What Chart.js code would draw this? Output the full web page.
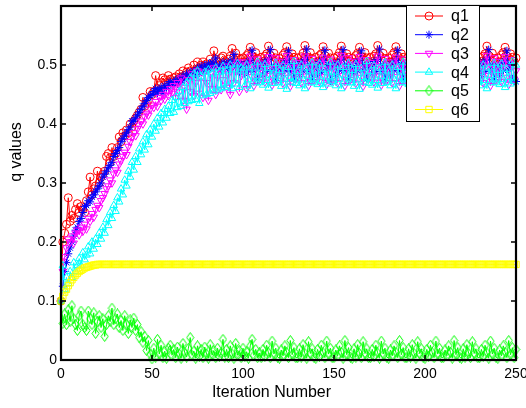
<!DOCTYPE html>
<html><head><meta charset="utf-8">
<script src="https://cdn.jsdelivr.net/npm/chart.js@4.4.1/dist/chart.umd.min.js"></script>
<style>html,body{margin:0;padding:0;background:#fff;}canvas{display:block;}</style>
</head><body>
<canvas id="c" width="526" height="408"></canvas>
<script>
const seriesNames = ["q1","q2","q3","q4","q5","q6"];
const xTickValues = [0,50,100,150,200,250];
const yTickValues = [0,0.1,0.2,0.3,0.4,0.5];
const xTitle = "Iteration Number";
const yTitle = "q values";

const q1 = [
0.100,0.200,0.215,0.230,0.275,0.235,0.245,0.240,0.255,0.265,
0.250,0.260,0.255,0.250,0.270,0.285,0.310,0.280,0.290,0.295,
0.320,0.300,0.310,0.315,0.320,0.345,0.350,0.335,0.360,0.345,
0.350,0.360,0.378,0.370,0.385,0.380,0.390,0.385,0.400,0.395,
0.405,0.410,0.415,0.420,0.425,0.445,0.430,0.435,0.440,0.455,
0.450,0.455,0.482,0.460,0.465,0.470,0.478,0.475,0.470,0.482,
0.476,0.470,0.478,0.480,0.475,0.485,0.480,0.490,0.482,0.488,
0.495,0.490,0.485,0.500,0.490,0.505,0.495,0.500,0.505,0.498,
0.502,0.495,0.510,0.500,0.524,0.510,0.505,0.500,0.512,0.515,
0.505,0.500,0.510,0.515,0.528,0.505,0.520,0.512,0.505,0.510,
0.512,0.505,0.516,0.520,0.530,0.514,0.508,0.521,0.511,0.504,
0.513,0.506,0.515,0.519,0.532,0.516,0.507,0.520,0.512,0.505,
0.511,0.504,0.517,0.521,0.531,0.515,0.509,0.519,0.513,0.506,
0.512,0.505,0.514,0.520,0.533,0.514,0.508,0.521,0.511,0.504,
0.513,0.506,0.516,0.519,0.531,0.516,0.507,0.520,0.512,0.505,
0.512,0.505,0.515,0.521,0.532,0.515,0.508,0.519,0.513,0.506,
0.511,0.504,0.516,0.520,0.530,0.514,0.509,0.521,0.512,0.505,
0.513,0.506,0.515,0.519,0.533,0.516,0.507,0.520,0.511,0.504,
0.512,0.505,0.517,0.521,0.531,0.515,0.508,0.519,0.513,0.506,
0.511,0.504,0.514,0.520,0.532,0.514,0.509,0.521,0.512,0.505,
0.513,0.506,0.516,0.519,0.530,0.516,0.507,0.520,0.511,0.504,
0.512,0.505,0.515,0.521,0.533,0.515,0.508,0.519,0.513,0.506,
0.511,0.504,0.516,0.520,0.531,0.514,0.509,0.521,0.512,0.505,
0.513,0.506,0.515,0.519,0.532,0.516,0.507,0.520,0.511,0.504,
0.512,0.505,0.517,0.521,0.530,0.515,0.508,0.519,0.513,0.506,
0.512];

const q2 = [
0.100,0.125,0.150,0.165,0.180,0.190,0.200,0.210,0.220,0.225,
0.235,0.240,0.250,0.260,0.262,0.270,0.268,0.276,0.280,0.285,
0.290,0.295,0.300,0.310,0.315,0.320,0.326,0.330,0.335,0.345,
0.350,0.355,0.360,0.370,0.375,0.380,0.385,0.390,0.395,0.405,
0.405,0.410,0.415,0.420,0.425,0.430,0.435,0.440,0.445,0.448,
0.450,0.455,0.460,0.452,0.458,0.462,0.452,0.465,0.460,0.468,
0.472,0.465,0.470,0.475,0.468,0.478,0.470,0.482,0.475,0.485,
0.478,0.488,0.480,0.490,0.484,0.495,0.486,0.498,0.490,0.500,
0.492,0.502,0.495,0.505,0.498,0.512,0.494,0.500,0.490,0.505,
0.497,0.503,0.492,0.508,0.500,0.518,0.496,0.505,0.488,0.502,
0.500,0.485,0.505,0.490,0.508,0.525,0.490,0.500,0.475,0.495,
0.502,0.483,0.506,0.489,0.510,0.526,0.491,0.498,0.474,0.496,
0.499,0.486,0.504,0.491,0.507,0.524,0.489,0.501,0.476,0.494,
0.501,0.484,0.505,0.490,0.509,0.527,0.490,0.499,0.475,0.495,
0.500,0.485,0.506,0.488,0.508,0.525,0.492,0.500,0.473,0.497,
0.502,0.484,0.504,0.491,0.510,0.526,0.490,0.501,0.475,0.494,
0.499,0.486,0.505,0.490,0.507,0.524,0.491,0.499,0.476,0.496,
0.501,0.485,0.506,0.489,0.509,0.527,0.489,0.500,0.474,0.495,
0.500,0.483,0.504,0.491,0.508,0.525,0.490,0.501,0.475,0.497,
0.502,0.486,0.505,0.490,0.510,0.526,0.492,0.499,0.473,0.494,
0.499,0.484,0.506,0.488,0.507,0.524,0.490,0.500,0.476,0.496,
0.501,0.485,0.504,0.491,0.509,0.527,0.491,0.501,0.475,0.495,
0.500,0.486,0.505,0.490,0.508,0.525,0.489,0.499,0.474,0.497,
0.502,0.484,0.506,0.489,0.510,0.526,0.490,0.500,0.475,0.494,
0.499,0.485,0.504,0.491,0.507,0.524,0.492,0.501,0.476,0.473,
0.472];

const q3 = [
0.100,0.150,0.175,0.190,0.205,0.200,0.210,0.198,0.215,0.220,
0.212,0.225,0.218,0.230,0.222,0.240,0.235,0.248,0.242,0.255,
0.262,0.258,0.270,0.275,0.282,0.290,0.295,0.305,0.300,0.315,
0.322,0.318,0.332,0.338,0.345,0.352,0.348,0.362,0.370,0.378,
0.385,0.380,0.392,0.398,0.405,0.400,0.412,0.418,0.415,0.425,
0.432,0.428,0.438,0.430,0.445,0.440,0.450,0.442,0.455,0.448,
0.460,0.452,0.465,0.445,0.470,0.455,0.478,0.440,0.462,0.425,
0.475,0.455,0.485,0.448,0.470,0.490,0.452,0.478,0.445,0.488,
0.470,0.440,0.485,0.460,0.495,0.450,0.480,0.492,0.458,0.475,
0.498,0.462,0.485,0.450,0.500,0.470,0.490,0.505,0.455,0.482,
0.505,0.490,0.460,0.500,0.515,0.480,0.465,0.495,0.510,0.475,
0.503,0.488,0.471,0.501,0.514,0.482,0.466,0.494,0.512,0.474,
0.506,0.491,0.469,0.499,0.516,0.479,0.464,0.496,0.509,0.476,
0.504,0.489,0.470,0.500,0.515,0.481,0.465,0.495,0.511,0.475,
0.505,0.490,0.472,0.502,0.513,0.480,0.467,0.493,0.510,0.473,
0.503,0.491,0.470,0.500,0.516,0.482,0.465,0.496,0.512,0.475,
0.506,0.488,0.469,0.501,0.514,0.479,0.464,0.495,0.509,0.476,
0.504,0.490,0.471,0.499,0.515,0.481,0.466,0.494,0.511,0.474,
0.505,0.489,0.470,0.500,0.513,0.480,0.465,0.496,0.510,0.475,
0.503,0.491,0.472,0.502,0.516,0.482,0.467,0.495,0.512,0.473,
0.506,0.490,0.469,0.500,0.514,0.479,0.464,0.493,0.509,0.476,
0.504,0.488,0.470,0.501,0.515,0.481,0.465,0.496,0.511,0.475,
0.505,0.491,0.471,0.499,0.513,0.480,0.466,0.495,0.510,0.474,
0.503,0.489,0.470,0.500,0.516,0.482,0.465,0.494,0.512,0.475,
0.506,0.490,0.472,0.502,0.514,0.479,0.467,0.496,0.509,0.476,
0.490];

const q4 = [
0.100,0.160,0.120,0.140,0.130,0.150,0.140,0.165,0.150,0.160,
0.172,0.160,0.182,0.170,0.178,0.192,0.180,0.200,0.188,0.205,
0.196,0.215,0.205,0.225,0.215,0.238,0.228,0.250,0.240,0.262,
0.252,0.275,0.268,0.290,0.280,0.305,0.295,0.320,0.310,0.335,
0.322,0.345,0.335,0.358,0.348,0.370,0.356,0.382,0.365,0.390,
0.378,0.400,0.388,0.410,0.395,0.418,0.402,0.425,0.410,0.430,
0.418,0.440,0.420,0.445,0.428,0.455,0.430,0.462,0.435,0.470,
0.438,0.478,0.440,0.485,0.442,0.490,0.435,0.480,0.448,0.488,
0.450,0.492,0.452,0.485,0.455,0.495,0.458,0.488,0.460,0.498,
0.462,0.490,0.465,0.500,0.460,0.492,0.468,0.502,0.462,0.495,
0.490,0.465,0.500,0.475,0.460,0.495,0.480,0.470,0.505,0.470,
0.488,0.466,0.501,0.474,0.461,0.494,0.482,0.469,0.503,0.471,
0.491,0.464,0.499,0.476,0.459,0.496,0.479,0.471,0.506,0.469,
0.489,0.465,0.500,0.475,0.460,0.495,0.481,0.470,0.504,0.470,
0.490,0.467,0.502,0.473,0.462,0.493,0.480,0.468,0.505,0.472,
0.488,0.465,0.500,0.476,0.460,0.496,0.482,0.470,0.503,0.470,
0.491,0.464,0.501,0.475,0.459,0.494,0.479,0.471,0.506,0.469,
0.489,0.466,0.499,0.474,0.461,0.495,0.481,0.469,0.504,0.471,
0.490,0.465,0.500,0.476,0.460,0.496,0.480,0.470,0.505,0.470,
0.488,0.467,0.502,0.475,0.462,0.493,0.482,0.468,0.503,0.472,
0.491,0.465,0.500,0.473,0.460,0.495,0.479,0.471,0.506,0.469,
0.489,0.464,0.501,0.476,0.459,0.494,0.481,0.470,0.504,0.470,
0.490,0.466,0.499,0.475,0.461,0.496,0.480,0.469,0.505,0.471,
0.488,0.465,0.500,0.474,0.460,0.495,0.482,0.470,0.503,0.470,
0.491,0.467,0.502,0.476,0.462,0.493,0.479,0.468,0.506,0.472,
0.500];

const q5 = [
0.100,0.062,0.078,0.060,0.085,0.065,0.092,0.070,0.060,0.050,
0.075,0.083,0.060,0.055,0.050,0.083,0.070,0.060,0.080,0.045,
0.065,0.075,0.055,0.070,0.040,0.060,0.075,0.065,0.088,0.060,
0.070,0.078,0.055,0.067,0.050,0.075,0.061,0.045,0.068,0.055,
0.071,0.050,0.060,0.038,0.048,0.030,0.040,0.016,0.033,0.010,
0.002,0.020,0.005,0.035,0.010,0.025,0.004,0.015,0.003,0.020,
0.025,0.008,0.018,0.004,0.022,0.010,0.003,0.028,0.012,0.005,
0.020,0.038,0.008,0.015,0.003,0.024,0.006,0.018,0.004,0.022,
0.010,0.003,0.026,0.008,0.016,0.004,0.020,0.006,0.012,0.035,
0.005,0.018,0.004,0.024,0.010,0.003,0.028,0.008,0.016,0.004,
0.020,0.006,0.014,0.003,0.024,0.035,0.008,0.018,0.004,0.012,
0.004,0.018,0.006,0.025,0.012,0.004,0.032,0.010,0.020,0.005,
0.003,0.017,0.007,0.024,0.013,0.004,0.033,0.009,0.021,0.004,
0.004,0.019,0.005,0.026,0.011,0.003,0.031,0.011,0.019,0.005,
0.003,0.018,0.006,0.025,0.012,0.004,0.032,0.010,0.020,0.004,
0.004,0.017,0.007,0.024,0.013,0.003,0.033,0.009,0.021,0.005,
0.003,0.019,0.005,0.026,0.011,0.004,0.031,0.011,0.019,0.004,
0.004,0.018,0.006,0.025,0.012,0.003,0.032,0.010,0.020,0.005,
0.003,0.017,0.007,0.024,0.013,0.004,0.033,0.009,0.021,0.004,
0.004,0.019,0.005,0.026,0.011,0.003,0.031,0.011,0.019,0.005,
0.003,0.018,0.006,0.025,0.012,0.004,0.032,0.010,0.020,0.004,
0.004,0.017,0.007,0.024,0.013,0.003,0.033,0.009,0.021,0.005,
0.003,0.019,0.005,0.026,0.011,0.004,0.031,0.011,0.019,0.004,
0.004,0.018,0.006,0.025,0.012,0.003,0.032,0.010,0.020,0.005,
0.003,0.017,0.007,0.024,0.013,0.004,0.033,0.009,0.021,0.004,
0.018];

const q6 = [
0.100,0.108,0.115,0.120,0.126,0.131,0.136,0.140,0.144,0.147,
0.150,0.152,0.154,0.156,0.157,0.158,0.159,0.160,0.161,0.161,
0.162,0.162,0.162,0.162,0.162,0.162,0.162,0.162,0.162,0.162,
0.162,0.162,0.162,0.162,0.162,0.162,0.162,0.162,0.162,0.162,
0.162,0.162,0.162,0.162,0.162,0.162,0.162,0.162,0.162,0.162,
0.162,0.162,0.162,0.162,0.162,0.162,0.162,0.162,0.162,0.162,
0.162,0.162,0.162,0.162,0.162,0.162,0.162,0.162,0.162,0.162,
0.162,0.162,0.162,0.162,0.162,0.162,0.162,0.162,0.162,0.162,
0.162,0.162,0.162,0.162,0.162,0.162,0.162,0.162,0.162,0.162,
0.162,0.162,0.162,0.162,0.162,0.162,0.162,0.162,0.162,0.162,
0.162,0.162,0.162,0.162,0.162,0.162,0.162,0.162,0.162,0.162,
0.162,0.162,0.162,0.162,0.162,0.162,0.162,0.162,0.162,0.162,
0.162,0.162,0.162,0.162,0.162,0.162,0.162,0.162,0.162,0.162,
0.162,0.162,0.162,0.162,0.162,0.162,0.162,0.162,0.162,0.162,
0.162,0.162,0.162,0.162,0.162,0.162,0.162,0.162,0.162,0.162,
0.162,0.162,0.162,0.162,0.162,0.162,0.162,0.162,0.162,0.162,
0.162,0.162,0.162,0.162,0.162,0.162,0.162,0.162,0.162,0.162,
0.162,0.162,0.162,0.162,0.162,0.162,0.162,0.162,0.162,0.162,
0.162,0.162,0.162,0.162,0.162,0.162,0.162,0.162,0.162,0.162,
0.162,0.162,0.162,0.162,0.162,0.162,0.162,0.162,0.162,0.162,
0.162,0.162,0.162,0.162,0.162,0.162,0.162,0.162,0.162,0.162,
0.162,0.162,0.162,0.162,0.162,0.162,0.162,0.162,0.162,0.162,
0.162,0.162,0.162,0.162,0.162,0.162,0.162,0.162,0.162,0.162,
0.162,0.162,0.162,0.162,0.162,0.162,0.162,0.162,0.162,0.162,
0.162,0.162,0.162,0.162,0.162,0.162,0.162,0.162,0.162,0.162,
0.162];

const seriesValues = [q1,q2,q3,q4,q5,q6];
const seriesColors = ["#ff0000","#0000ff","#ff00ff","#00ffff","#00ff00","#ffff00"];

// narrow MATLAB-like diamond glyph for q5
function makeDiamond(color) {
  const c = document.createElement("canvas");
  c.width = 9; c.height = 11;
  const g = c.getContext("2d");
  g.strokeStyle = color; g.lineWidth = 1;
  g.beginPath();
  g.moveTo(4.5, 0.5); g.lineTo(8, 5.5); g.lineTo(4.5, 10.5); g.lineTo(1, 5.5); g.closePath();
  g.stroke();
  return c;
}
const diamondGlyph = makeDiamond("#00ff00");

const seriesMarkers = [
  {style:"circle", radius:4, rotation:0},
  {style:"star", radius:4, rotation:0},
  {style:"triangle", radius:4.3, rotation:180},
  {style:"triangle", radius:4.3, rotation:0},
  {style:diamondGlyph, radius:5, rotation:0},
  {style:"rect", radius:4.5, rotation:0}
];

const FONT = "'Liberation Sans', Arial, Helvetica, sans-serif";

const datasets = seriesNames.map((name, i) => ({
  label: name,
  data: seriesValues[i].map((v, k) => ({x: k, y: v})),
  borderColor: seriesColors[i],
  backgroundColor: seriesColors[i],
  borderWidth: 1,
  pointStyle: seriesMarkers[i].style,
  pointRadius: seriesMarkers[i].radius,
  pointRotation: seriesMarkers[i].rotation,
  pointBorderColor: seriesColors[i],
  pointBackgroundColor: "rgba(0,0,0,0)",
  pointBorderWidth: 1,
  tension: 0,
  fill: false,
  clip: false,
  order: seriesNames.length - i
}));

function drawMarker(ctx, m, color, x, y) {
  if (typeof m.style !== "string") {
    ctx.drawImage(m.style, x - m.style.width / 2, y - m.style.height / 2);
    return;
  }
  if (Chart.helpers && Chart.helpers.drawPoint) {
    ctx.strokeStyle = color; ctx.fillStyle = "rgba(0,0,0,0)"; ctx.lineWidth = 1;
    Chart.helpers.drawPoint(ctx, {pointStyle: m.style, radius: m.radius, rotation: m.rotation, borderWidth: 1}, x, y);
  }
}

const framePlugin = {
  id: "frame",
  afterDraw(chart) {
    const {ctx, chartArea: a, scales: {x, y}} = chart;
    ctx.save();
    ctx.strokeStyle = "#000";
    ctx.lineWidth = 2.2;
    ctx.strokeRect(a.left, a.top, a.right - a.left, a.bottom - a.top);
    ctx.lineWidth = 1.5;
    ctx.beginPath();
    xTickValues.forEach(v => {
      const px = x.getPixelForValue(v);
      ctx.moveTo(px, a.bottom); ctx.lineTo(px, a.bottom - 5);
      ctx.moveTo(px, a.top); ctx.lineTo(px, a.top + 5);
    });
    yTickValues.forEach(v => {
      const py = y.getPixelForValue(v);
      ctx.moveTo(a.left, py); ctx.lineTo(a.left + 5, py);
      ctx.moveTo(a.right, py); ctx.lineTo(a.right - 5, py);
    });
    ctx.stroke();
    // axis titles
    ctx.fillStyle = "#000";
    ctx.font = "16px " + FONT;
    ctx.textAlign = "center";
    ctx.textBaseline = "middle";
    ctx.fillText(xTitle, 271.5, 393);
    ctx.save();
    ctx.translate(17, 152);
    ctx.rotate(-Math.PI / 2);
    ctx.fillText(yTitle, 0, 0);
    ctx.restore();
    // legend
    const lx = 406.5, ly = 5.5, lw = 73, lh = 116;
    ctx.fillStyle = "#fff";
    ctx.fillRect(lx, ly, lw, lh);
    ctx.strokeStyle = "#000";
    ctx.lineWidth = 1;
    ctx.strokeRect(lx, ly, lw, lh);
    ctx.font = "16px " + FONT;
    ctx.textAlign = "left";
    ctx.textBaseline = "middle";
    seriesNames.forEach((name, i) => {
      const ry = 16 + i * 18.7;
      ctx.strokeStyle = seriesColors[i];
      ctx.lineWidth = 1;
      ctx.beginPath();
      ctx.moveTo(415, ry); ctx.lineTo(443, ry);
      ctx.stroke();
      drawMarker(ctx, seriesMarkers[i], seriesColors[i], 429, ry);
      ctx.fillStyle = "#000";
      ctx.fillText(name, 451, ry + 1);
    });
    ctx.restore();
  }
};

new Chart(document.getElementById("c"), {
  type: "line",
  data: { datasets },
  options: {
    responsive: false,
    animation: false,
    events: [],
    layout: { padding: { top: 1, right: 10, left: 0, bottom: 0 } },
    plugins: { legend: { display: false }, tooltip: { enabled: false } },
    scales: {
      x: {
        type: "linear", min: 0, max: 250,
        grid: { display: false, drawTicks: false },
        border: { display: false },
        afterBuildTicks: s => { s.ticks = xTickValues.map(v => ({value: v})); },
        afterFit: s => { s.height = 48; s.paddingLeft = 0; s.paddingRight = 0; },
        ticks: { color: "#000", padding: 6, maxRotation: 0, font: { family: FONT, size: 14 },
          callback: v => String(v) }
      },
      y: {
        type: "linear", min: 0, max: 0.6,
        grid: { display: false, drawTicks: false },
        border: { display: false },
        afterBuildTicks: s => { s.ticks = yTickValues.map(v => ({value: v})); },
        afterFit: s => { s.width = 61; s.paddingTop = 0; s.paddingBottom = 0; },
        ticks: { color: "#000", padding: 4, font: { family: FONT, size: 14 },
          callback: v => (v === 0 ? "0" : Number(v).toFixed(1)) }
      }
    }
  },
  plugins: [framePlugin]
});
</script>
</body></html>
